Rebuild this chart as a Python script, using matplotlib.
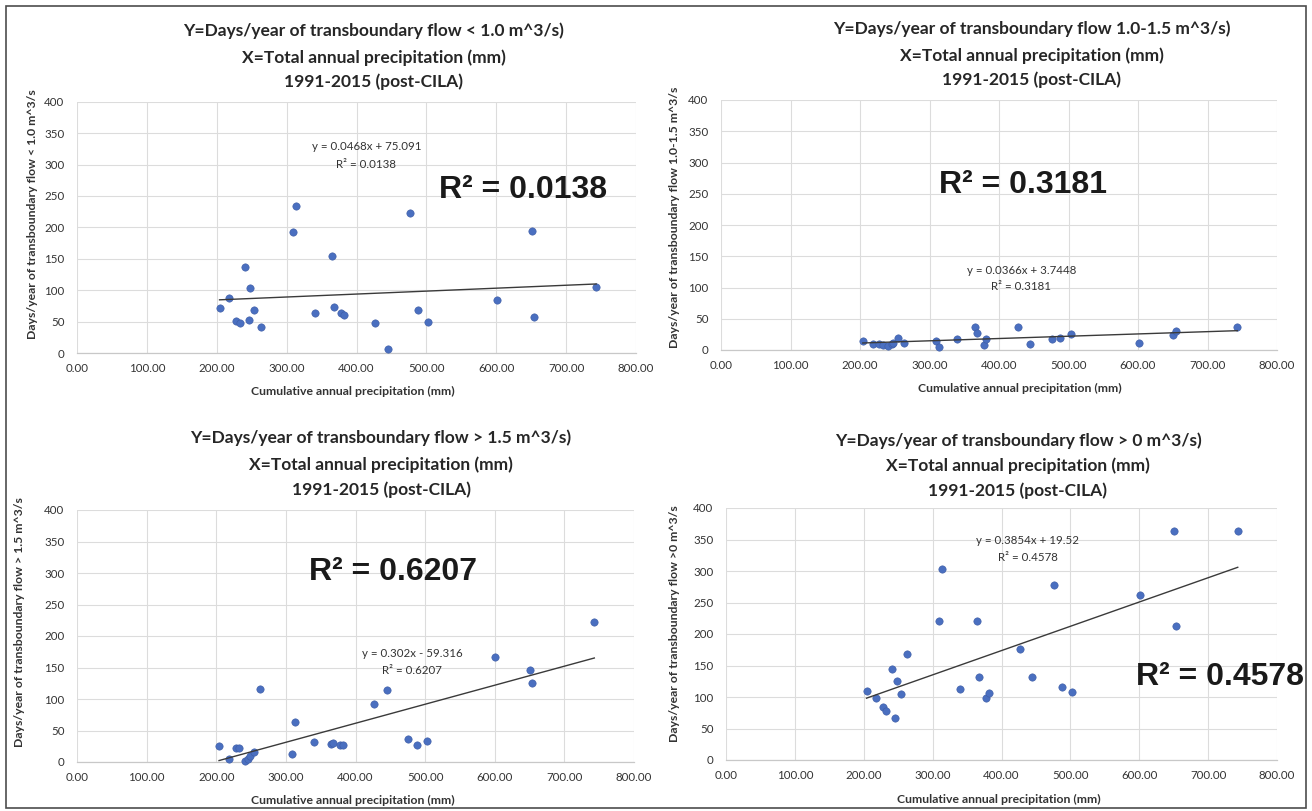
import matplotlib
matplotlib.use("Agg")
import matplotlib.pyplot as plt
from matplotlib.patches import Rectangle

# ---------------- data ----------------
precip_mm = [204, 218, 228, 233, 241, 246, 248, 254, 263, 309, 313, 340, 365,
             368, 378, 382, 427, 445, 476, 488, 503, 601, 651, 654, 743]
days_lt_1_0 = [71, 87, 51, 47, 137, 52, 104, 69, 41, 193, 234, 63, 155,
               74, 63, 61, 47, 7, 223, 69, 49, 85, 194, 57, 105]
days_1_0_to_1_5 = [15, 9, 10, 8, 6, 10, 12, 20, 11, 15, 5, 18, 37,
                   27, 8, 18, 37, 9, 18, 20, 25, 11, 24, 30, 37]
days_gt_1_5 = [25, 4, 22, 23, 2, 5, 10, 16, 116, 12, 64, 31, 29,
               30, 27, 27, 92, 115, 37, 27, 34, 166, 146, 126, 222]
days_gt_0 = [110, 99, 84, 78, 145, 67, 126, 105, 168, 220, 303, 112, 221,
             131, 98, 106, 176, 131, 278, 116, 108, 262, 364, 213, 364]

flow_classes = ["< 1.0", "1.0-1.5", "> 1.5", "> 0"]
ylabel_classes = ["< 1.0", "1.0-1.5", "> 1.5", ">0"]
slopes = [0.0468, 0.0366, 0.302, 0.3854]
intercepts = [75.091, 3.7448, -59.316, 19.52]
r2_values = ["0.0138", "0.3181", "0.6207", "0.4578"]
equations = ["y = 0.0468x + 75.091", "y = 0.0366x + 3.7448",
             "y = 0.302x - 59.316", "y = 0.3854x + 19.52"]
x_ticks = [0, 100, 200, 300, 400, 500, 600, 700, 800]
y_ticks = [0, 50, 100, 150, 200, 250, 300, 350, 400]
series = [days_lt_1_0, days_1_0_to_1_5, days_gt_1_5, days_gt_0]

# ---------------- layout (pixels) ----------------
W, H = 1312, 811
fig = plt.figure(figsize=(W / 100, H / 100), dpi=100)
fig.patch.set_facecolor("white")

def fx(x):
    return x / W

def fy(y):
    return 1 - y / H

# axes boxes: left, right, top, bottom in pixels
boxes = [(77, 636, 101.7, 353), (721, 1277, 100, 350),
         (77, 634, 510, 762), (726, 1277, 508, 760)]
title_cx = [374, 1032, 381, 1018]
title_ys = [(31, 58, 82), (29, 56, 80), (438, 465, 490), (441, 466, 491)]
ylabel_pos = [(33, 214), (675, 217), (20, 622), (675, 624)]
xlabel_pos = [(353, 391), (1020, 388), (353, 800), (999, 799)]
big_pos = [(638, 260), (435, 264), (454, 302), (717, 132)]
eq_pos = [(414, 328, 300), (432, 128, 101), (481, 173, 146), (438, 348, 321)]

font = "Lato"
grid_col = "#dcdcdc"
dot_col = "#4a6fc0"

for i in range(4):
    l, r, t, b = boxes[i]
    ax = fig.add_axes([fx(l), fy(b), (r - l) / W, (b - t) / H])
    ax.set_xlim(0, 800)
    ax.set_ylim(0, 400)
    ax.set_xticks(x_ticks)
    ax.set_yticks(y_ticks)
    ax.set_xticklabels([f"{v:.2f}" for v in x_ticks])
    ax.set_yticklabels([str(v) for v in y_ticks])
    ax.tick_params(length=0, labelsize=8.3, colors="#333333")
    ax.tick_params(axis="x", pad=7.5)
    ax.tick_params(axis="y", pad=9)
    for lab in ax.get_xticklabels() + ax.get_yticklabels():
        lab.set_family(font)
    ax.grid(True, color=grid_col, linewidth=0.8)
    ax.set_axisbelow(True)
    for s in ["top", "right", "left"]:
        ax.spines[s].set_visible(False)
    ax.spines["bottom"].set_color("#c8c8c8")
    ax.spines["bottom"].set_linewidth(0.9)

    ys = series[i]
    ax.scatter(precip_mm, ys, s=28, color=dot_col, edgecolors="#3d5ba3",
               linewidths=0.4, zorder=3, clip_on=False)
    xmin, xmax = min(precip_mm), max(precip_mm)
    ax.plot([xmin, xmax], [slopes[i] * xmin + intercepts[i],
                           slopes[i] * xmax + intercepts[i]],
            color="#3a3a3a", linewidth=1.0, zorder=4)

    ex, ey1, ey2 = eq_pos[i]
    ax.text(ex, ey1, equations[i], fontsize=8.3, ha="center", va="center",
            family=font, color="#333333")
    ax.text(ex, ey2, "R² = " + r2_values[i], fontsize=8.3, ha="center",
            va="center", family=font, color="#333333")

    bx, by = big_pos[i]
    ax.text(bx, by, "R² = " + r2_values[i], fontsize=23, ha="center",
            va="center", family="Liberation Sans", weight="bold",
            color="#1a1a1a", clip_on=False)

    lines = ["Y=Days/year of transboundary flow " + flow_classes[i] + " m^3/s)",
             "X=Total annual precipitation (mm)",
             "1991-2015 (post-CILA)"]
    for line, yy in zip(lines, title_ys[i]):
        fig.text(fx(title_cx[i]), fy(yy), line, ha="center", va="center",
                 fontsize=12.5, family=font, weight="bold",
                 color="#262626")

    lx, ly = ylabel_pos[i]
    fig.text(fx(lx), fy(ly),
             "Days/year of transboundary flow " + ylabel_classes[i] + " m^3/s",
             rotation=90, ha="center", va="center", fontsize=8.8,
             family=font, weight="bold", color="#333333")
    xx, xy = xlabel_pos[i]
    fig.text(fx(xx), fy(xy), "Cumulative annual precipitation (mm)",
             ha="center", va="center", fontsize=8.8, family=font,
             weight="bold", color="#333333")

# outer frame
fig.add_artist(Rectangle((fx(6), fy(808)), (1306 - 6) / W, (808 - 6) / H,
                         transform=fig.transFigure, fill=False,
                         edgecolor="#4d4d4d", linewidth=1.2))

fig.savefig("out.png", dpi=100, facecolor="white")
